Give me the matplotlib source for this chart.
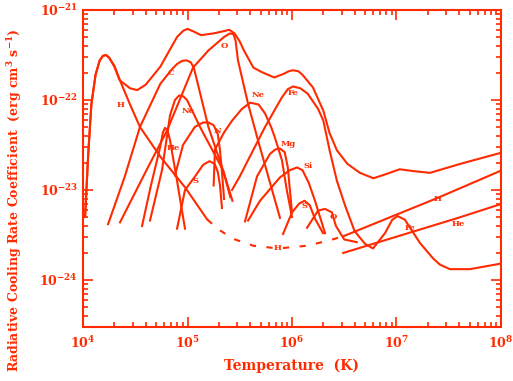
import matplotlib

matplotlib.use("Agg")
import numpy as np
from matplotlib import pyplot as plt
from matplotlib.ticker import FixedLocator, LogLocator, NullFormatter

RED = "#ff2a00"

plt.rcParams["font.family"] = "DejaVu Serif"
plt.rcParams["font.weight"] = "bold"
plt.rcParams["mathtext.fontset"] = "dejavuserif"

# all curves: log10(T) and log10(Lambda)
total_logt = [4.02, 4.05, 4.08, 4.12, 4.16, 4.19, 4.22, 4.25, 4.30, 4.35, 4.45, 4.52, 4.60,
              4.74, 4.90, 4.96, 5.00, 5.06, 5.13, 5.25, 5.33, 5.40, 5.45, 5.50, 5.54, 5.63,
              5.71, 5.83, 5.92, 5.97, 6.01, 6.06, 6.10, 6.20, 6.30, 6.36, 6.43, 6.53, 6.65,
              6.78, 6.91, 7.03, 7.16, 7.32, 7.61, 7.99]
total_logl = [-23.3, -22.6, -22.05, -21.72, -21.56, -21.51, -21.50, -21.53, -21.63, -21.78,
              -21.87, -21.89, -21.83, -21.63, -21.30, -21.23, -21.21, -21.24, -21.28, -21.26,
              -21.24, -21.22, -21.26, -21.35, -21.45, -21.64, -21.69, -21.75, -21.71, -21.68,
              -21.67, -21.68, -21.72, -21.86, -22.12, -22.37, -22.56, -22.71, -22.81, -22.87,
              -22.82, -22.77, -22.79, -22.81, -22.71, -22.59]

h_logt = [4.02, 4.05, 4.08, 4.12, 4.16, 4.19, 4.22, 4.25, 4.30, 4.36, 4.45, 4.545, 4.74,
          4.976, 5.19]
h_logl = [-23.3, -22.6, -22.05, -21.72, -21.56, -21.51, -21.50, -21.53, -21.62, -21.80,
          -22.05, -22.30, -22.63, -22.97, -23.33]
h_dash_logt = [5.19, 5.30, 5.43, 5.63, 5.87, 6.14, 6.36, 6.50]
h_dash_logl = [-23.33, -23.44, -23.54, -23.62, -23.65, -23.62, -23.56, -23.51]
h_ff_logt = [6.50, 7.39, 7.99]
h_ff_logl = [-23.51, -23.09, -22.79]
he_ff_logt = [6.49, 7.59, 7.99]
he_ff_logl = [-23.70, -23.31, -23.16]

c_logt = [4.24, 4.40, 4.545, 4.74, 4.85, 4.90, 4.95, 4.99, 5.03, 5.06, 5.09, 5.20, 5.34, 5.41]
c_logl = [-23.38, -22.85, -22.30, -21.82, -21.66, -21.60, -21.565, -21.56, -21.58, -21.64,
          -21.78, -22.30, -22.78, -23.08]

o_logt = [4.354, 4.612, 4.804, 5.053, 5.20, 5.28, 5.35, 5.407, 5.44, 5.46, 5.483, 5.579,
          5.675, 5.885]
o_logl = [-23.36, -22.77, -22.34, -21.64, -21.45, -21.37, -21.30, -21.26, -21.27, -21.34,
          -21.56, -22.04, -22.45, -23.31]

he_logt = [4.565, 4.65, 4.737, 4.765, 4.785, 4.81, 4.833, 4.90, 4.976]
he_logl = [-23.40, -22.95, -22.53, -22.36, -22.31, -22.34, -22.45, -22.90, -23.43]

ne_logt = [4.641, 4.756, 4.833, 4.88, 4.92, 4.96, 4.995, 5.12, 5.34, 5.43]
ne_logl = [-23.34, -22.78, -22.17, -22.00, -21.95, -21.96, -22.00, -22.30, -22.78, -23.12]

n_logt = [4.88, 4.957, 5.07, 5.15, 5.20, 5.25, 5.29, 5.31, 5.33, 5.35]
n_logl = [-22.84, -22.50, -22.30, -22.25, -22.25, -22.28, -22.38, -22.55, -22.80, -23.10]

s_logt = [4.90, 4.976, 5.072, 5.15, 5.21, 5.26, 5.29, 5.311, 5.33]
s_logl = [-23.43, -23.00, -22.85, -22.72, -22.68, -22.71, -22.80, -22.95, -23.20]

ne2_logt = [5.25, 5.263, 5.35, 5.426, 5.52, 5.60, 5.68, 5.742, 5.80, 5.837, 5.904, 5.95, 6.00]
ne2_logl = [-22.95, -22.55, -22.36, -22.23, -22.10, -22.03, -22.05, -22.15, -22.30, -22.42,
            -22.67, -23.00, -23.30]

fe_logt = [5.426, 5.50, 5.579, 5.742, 5.83, 5.904, 5.96, 6.01, 6.08, 6.15, 6.25, 6.30, 6.36,
           6.43, 6.51, 6.60, 6.70, 6.775, 6.89, 6.96, 7.01, 7.08, 7.225, 7.35, 7.416, 7.512,
           7.703, 7.99]
fe_logl = [-23.00, -22.85, -22.67, -22.30, -22.12, -21.97, -21.88, -21.85, -21.87, -21.93,
           -22.10, -22.23, -22.56, -22.90, -23.18, -23.46, -23.60, -23.65, -23.48, -23.33,
           -23.29, -23.33, -23.59, -23.76, -23.83, -23.88, -23.88, -23.82]

mg_logt = [5.55, 5.665, 5.789, 5.84, 5.885, 5.93, 5.96, 5.98, 6.00]
mg_logl = [-23.35, -22.85, -22.60, -22.55, -22.54, -22.58, -22.75, -23.00, -23.25]

si_logt = [5.579, 5.694, 5.885, 5.98, 6.048, 6.10, 6.16, 6.22, 6.316]
si_logl = [-23.34, -23.12, -22.86, -22.78, -22.75, -22.78, -22.92, -23.12, -23.48]

s2_logt = [5.914, 6.00, 6.07, 6.12, 6.17, 6.22, 6.297]
s2_logl = [-23.49, -23.25, -23.15, -23.12, -23.17, -23.32, -23.48]

o2_logt = [6.144, 6.249, 6.316, 6.383, 6.42, 6.50, 6.62]
o2_logl = [-23.42, -23.23, -23.21, -23.25, -23.40, -23.55, -23.58]

solid_curves = [
    (total_logt, total_logl), (h_logt, h_logl), (h_ff_logt, h_ff_logl),
    (he_ff_logt, he_ff_logl), (c_logt, c_logl), (o_logt, o_logl), (he_logt, he_logl),
    (ne_logt, ne_logl), (n_logt, n_logl), (s_logt, s_logl), (ne2_logt, ne2_logl),
    (fe_logt, fe_logl), (mg_logt, mg_logl), (si_logt, si_logl), (s2_logt, s2_logl),
    (o2_logt, o2_logl),
]

label_text = ["H", "C", "O", "Ne", "N", "He", "S", "Ne", "Fe", "Mg", "Si", "S", "O",
              "H", "He", "Fe", "H"]
label_logt = [4.364, 4.842, 5.349, 5.005, 5.282, 4.861, 5.081, 5.675, 6.01, 5.96, 6.153,
              6.124, 6.40, 7.39, 7.59, 7.13, 5.866]
label_logl = [-22.06, -21.70, -21.40, -22.12, -22.34, -22.53, -22.90, -21.95, -21.92,
              -22.49, -22.73, -23.18, -23.30, -23.10, -23.38, -23.42, -23.65]

fig = plt.figure(figsize=(5.13, 3.81), dpi=100)
ax = fig.add_axes([0.1618, 0.1417, 0.8148, 0.8321])

for logt, logl in solid_curves:
    ax.plot(10 ** np.array(logt), 10 ** np.array(logl), color=RED, lw=1.5,
            solid_joinstyle="round")
ax.plot(10 ** np.array(h_dash_logt), 10 ** np.array(h_dash_logl), color=RED, lw=1.5,
        ls=(0, (3, 5)))

for text, lt, ll in zip(label_text, label_logt, label_logl):
    ax.text(10 ** lt, 10 ** ll, text, color=RED, fontsize=6, fontweight="bold",
            ha="center", va="center")

ax.set_xscale("log")
ax.set_yscale("log")
ax.set_xlim(1e4, 1e8)
ax.set_ylim(3e-25, 1e-21)

ax.xaxis.set_major_locator(FixedLocator([1e4, 1e5, 1e6, 1e7, 1e8]))
ax.set_xticklabels([r"$\mathbf{10^{%d}}$" % k for k in range(4, 9)])
ax.yaxis.set_major_locator(FixedLocator([1e-24, 1e-23, 1e-22, 1e-21]))
ax.set_yticklabels([r"$\mathbf{10^{%d}}$" % k for k in range(-24, -20)])
ax.xaxis.set_minor_locator(LogLocator(base=10, subs=np.arange(2, 10), numticks=20))
ax.yaxis.set_minor_locator(LogLocator(base=10, subs=np.arange(2, 10), numticks=20))
ax.xaxis.set_minor_formatter(NullFormatter())
ax.yaxis.set_minor_formatter(NullFormatter())

ax.tick_params(which="both", direction="in", top=True, right=True, color=RED,
               labelcolor=RED, labelsize=9, width=1.2)
ax.tick_params(which="major", length=7)
ax.tick_params(which="minor", length=3.5)
ax.tick_params(axis="x", pad=6)
for spine in ax.spines.values():
    spine.set_color(RED)
    spine.set_linewidth(1.5)

ax.set_xlabel("Temperature  (K)", color=RED, fontsize=10, fontweight="bold", labelpad=5)
fig.text(0.028, 1 - 200 / 381,
         r"Radiative Cooling Rate Coefficient  (erg cm$^{\mathbf{3}}$ s$^{\mathbf{-1}}$)",
         color=RED, fontsize=9.0, fontweight="bold", rotation=90, ha="center", va="center")

fig.savefig("out.png", dpi=100)
